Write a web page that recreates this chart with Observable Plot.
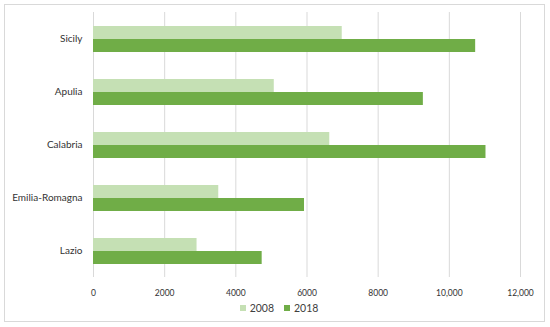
<!DOCTYPE html>
<html>
<head>
<meta charset="utf-8">
<script src="https://cdn.jsdelivr.net/npm/d3@7"></script>
<script src="https://cdn.jsdelivr.net/npm/@observablehq/plot@0.6"></script>
<style>
  body { margin: 0; background: #fff; }
  #wrap { position: relative; width: 550px; height: 327px; font-family: Lato, "Open Sans", sans-serif; }
  #frame { position: absolute; left: 4px; top: 4px; width: 541px; height: 318px; border: 1px solid #d9d9d9; box-sizing: border-box; }
  #chart { position: absolute; left: 0; top: 0; }
  #legend { position: absolute; top: 302px; left: 0; width: 550px; display: flex; justify-content: center; gap: 10px; font-size: 10.5px; color: #404040; padding-left: 8px; box-sizing: border-box; }
  #legend span.item { display: flex; align-items: center; gap: 4px; }
  #legend span.sw { width: 6px; height: 6px; display: inline-block; }
</style>
</head>
<body>
<div id="wrap">
  <div id="frame"></div>
  <div id="chart"></div>
  <div id="legend"></div>
</div>
<script>
const regions = ["Sicily", "Apulia", "Calabria", "Emilia-Romagna", "Lazio"];
const years = ["2008", "2018"];
const values2008 = [6990, 5080, 6640, 3520, 2910];
const values2018 = [10740, 9270, 11030, 5930, 4740];
const xTicks = [0, 2000, 4000, 6000, 8000, 10000, 12000];
const xTickLabels = ["0", "2000", "4000", "6000", "8000", "10,000", "12,000"];
const colors = ["#c5e0b4", "#70ad47"];

const data = [];
regions.forEach((r, i) => {
  data.push({region: r, year: years[0], value: values2008[i]});
  data.push({region: r, year: years[1], value: values2018[i]});
});

const chart = Plot.plot({
  width: 550,
  height: 300,
  marginLeft: 93,
  marginRight: 30,
  marginTop: 12,
  marginBottom: 23,
  style: {fontFamily: "Lato, 'Open Sans', sans-serif", color: "#333333", background: "transparent"},
  x: {domain: [0, 12000], axis: null},
  y: {domain: years, paddingInner: 0, paddingOuter: 0.9, axis: null},
  fy: {domain: regions, padding: 0, axis: null},
  color: {domain: years, range: colors},
  marks: [
    Plot.ruleX(xTicks, {stroke: "#d9d9d9", strokeWidth: 1, strokeOpacity: 1}),
    Plot.barX(data, {fy: "region", y: "year", x: "value", fill: "year"}),
    Plot.axisFy({anchor: "left", tickSize: 0, tickPadding: 11, fontSize: 10, label: null}),
    Plot.axisX({ticks: xTicks, tickSize: 0, tickPadding: 12, fontSize: 8.5, label: null,
      tickFormat: (d) => xTickLabels[xTicks.indexOf(d)], facetAnchor: "bottom"})
  ]
});
document.getElementById("chart").appendChild(chart);

const legend = document.getElementById("legend");
years.forEach((y, i) => {
  const item = document.createElement("span");
  item.className = "item";
  const sw = document.createElement("span");
  sw.className = "sw";
  sw.style.background = colors[i];
  const t = document.createElement("span");
  t.textContent = y;
  item.appendChild(sw);
  item.appendChild(t);
  legend.appendChild(item);
});
</script>
</body>
</html>
